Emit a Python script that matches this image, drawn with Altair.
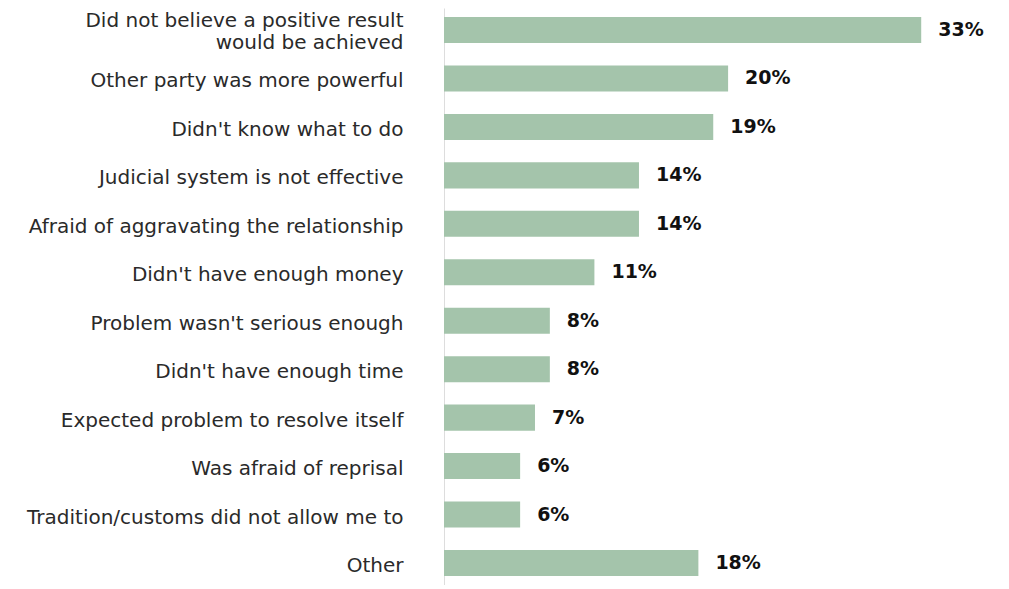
import altair as alt
import pandas as pd

categories = [
    "Did not believe a positive result \nwould be achieved",
    "Other party was more powerful",
    "Didn't know what to do",
    "Judicial system is not effective",
    "Afraid of aggravating the relationship",
    "Didn't have enough money",
    "Problem wasn't serious enough",
    "Didn't have enough time",
    "Expected problem to resolve itself",
    "Was afraid of reprisal",
    "Tradition/customs did not allow me to",
    "Other",
]
values = [33, 20, 19, 14, 14, 11, 8, 8, 7, 6, 6, 18]
labels = ["33%", "20%", "19%", "14%", "14%", "11%", "8%", "8%", "7%", "6%", "6%", "18%"]

df = pd.DataFrame({"reason": categories, "value": values, "label": labels})

FONT = "DejaVu Sans"
BAR = "#a4c4ab"

y_enc = alt.Y(
    "reason:N",
    sort=categories,
    title=None,
    scale=alt.Scale(paddingInner=0.463, paddingOuter=0.186),
    axis=alt.Axis(
        labelExpr="split(datum.label, '\\n')",
        labelFont=FONT,
        labelFontSize=20,
        labelColor="#2a2a2a",
        labelPadding=41,
        labelLimit=0,
        labelLineHeight=22,
        labelOffset=alt.condition("indexof(datum.value, '\\n') >= 0", alt.value(-9), alt.value(3)),
        ticks=False,
        domain=True,
        domainColor="#dddddd",
        domainWidth=1,
        grid=False,
    ),
)
x_enc = alt.X(
    "value:Q",
    title=None,
    scale=alt.Scale(domain=[0.875, 37.9], zero=False, nice=False),
    axis=None,
)

bars = alt.Chart(df).mark_bar(color=BAR, clip=True).encode(y=y_enc, x=x_enc)

text = alt.Chart(df).mark_text(
    align="left", baseline="middle", dx=17, font=FONT, fontSize=19,
    fontWeight="bold", color="#111111"
).encode(y=y_enc, x=x_enc, text="label:N")

chart = (
    alt.layer(bars, text)
    .properties(
        width=550,
        height=577,
        autosize=alt.AutoSizeParams(type="none"),
        padding={"left": 436, "top": 0, "right": 0, "bottom": 0},
        view=alt.ViewBackground(stroke="transparent", strokeWidth=0),
    )
    .configure_view(strokeWidth=0, stroke="transparent")
    .configure(background="white")
)

chart.save("out.html", embed_options={"renderer": "svg", "actions": False})
